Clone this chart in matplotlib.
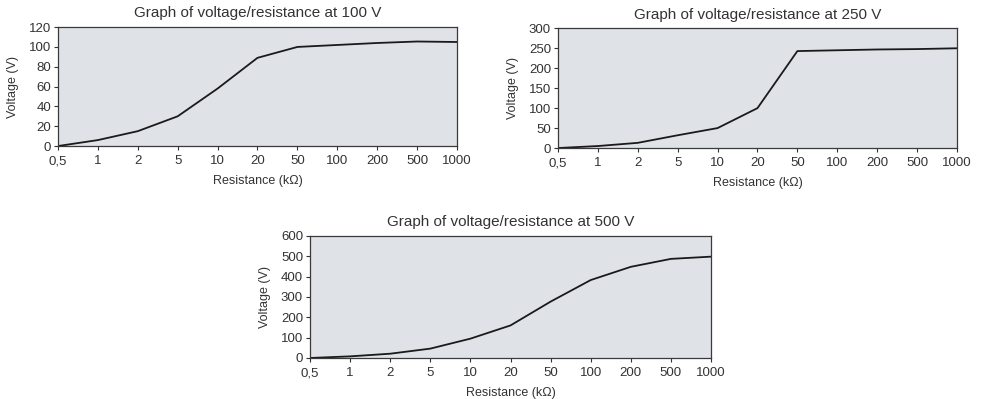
import matplotlib
matplotlib.use("Agg")
import matplotlib.pyplot as plt

# Categorical resistance ticks (evenly spaced in the original)
resistance_labels = ["0,5", "1", "2", "5", "10", "20", "50", "100", "200", "500", "1000"]

# Voltage readings at each resistance step
volt_100 = [0, 6, 15, 30, 58, 89, 100, 102, 104, 105.5, 105]
volt_250 = [0, 5, 13, 32, 50, 100, 243, 245, 247, 248, 250]
volt_500 = [0, 8, 21, 46, 95, 160, 277, 383, 448, 487, 498]

plt.rcParams["font.family"] = ["Liberation Sans", "DejaVu Sans"]

fill = "#dfe2e7"
ink = "#333333"

fig = plt.figure(figsize=(9.81, 3.99), dpi=100)


def draw(rect, values, ymax, ystep, title):
    ax = fig.add_axes(rect)
    ax.set_facecolor(fill)
    x = list(range(len(resistance_labels)))
    ax.plot(x, values, color="#1a1a1a", linewidth=1.3)
    ax.set_xlim(0, len(resistance_labels) - 1)
    ax.set_ylim(0, ymax)
    ax.set_xticks(x)
    ax.set_xticklabels(resistance_labels)
    ax.set_yticks(range(0, ymax + 1, ystep))
    ax.tick_params(colors=ink, labelsize=9.5, length=3, width=0.8, pad=2)
    ax.tick_params(axis="x", pad=3.5)
    for s in ax.spines.values():
        s.set_color("#3a3a3a")
        s.set_linewidth(0.9)
    ax.set_title(title, fontsize=11, color=ink, pad=7)
    ax.set_xlabel("Resistance (k\u03a9)", fontsize=9, color=ink, labelpad=6)
    ax.set_ylabel("Voltage (V)", fontsize=9, color=ink, labelpad=7)
    return ax


draw([0.0591, 0.634, 0.4067, 0.298], volt_100, 120, 20,
     "Graph of voltage/resistance at 100 V")
draw([0.5688, 0.629, 0.4067, 0.300], volt_250, 300, 50,
     "Graph of voltage/resistance at 250 V")
draw([0.316, 0.1028, 0.4088, 0.306], volt_500, 600, 100,
     "Graph of voltage/resistance at 500 V")

fig.savefig("out.png", dpi=100, facecolor="white")
